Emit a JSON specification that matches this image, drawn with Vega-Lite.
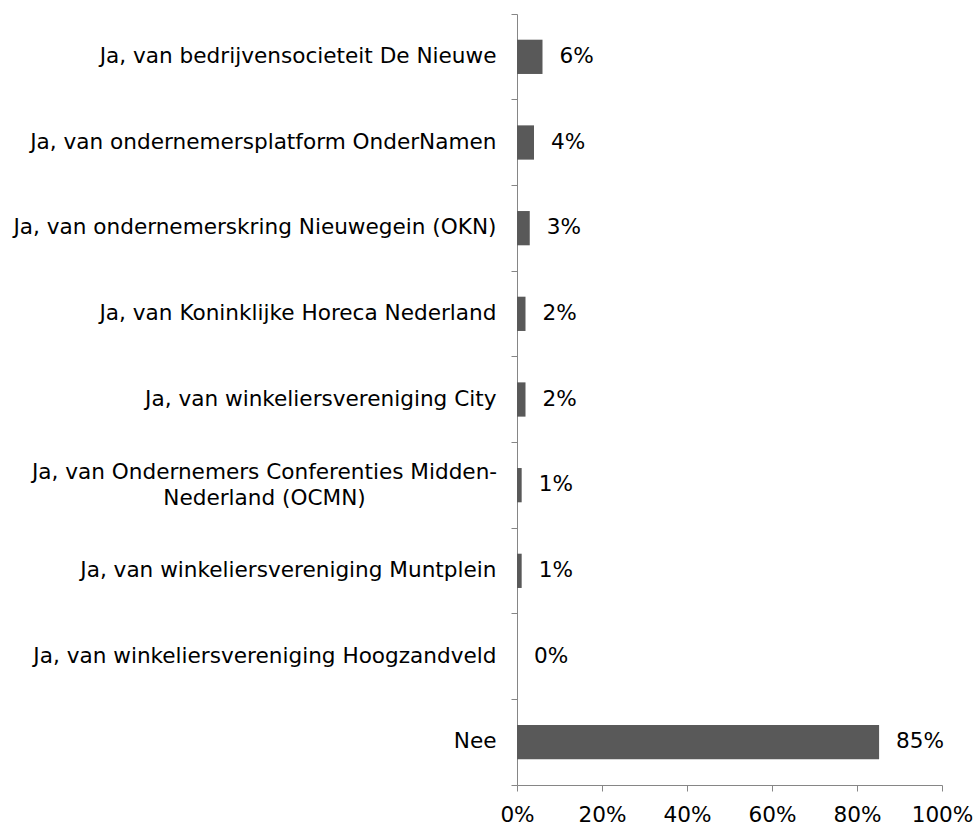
{
  "$schema": "https://vega.github.io/schema/vega-lite/v6.json",
  "autosize": "none",
  "padding": {"left": 517, "top": 14, "right": 35, "bottom": 40},
  "width": 425,
  "height": 771,
  "background": "white",
  "config": {
    "view": {"stroke": null},
    "font": "DejaVu Sans"
  },
  "data": {
    "values": [
      {"categorie": "Ja, van bedrijvensocieteit De Nieuwe", "aandeel": 0.06},
      {"categorie": "Ja, van ondernemersplatform OnderNamen", "aandeel": 0.04},
      {"categorie": "Ja, van ondernemerskring Nieuwegein (OKN)", "aandeel": 0.03},
      {"categorie": "Ja, van Koninklijke Horeca Nederland", "aandeel": 0.02},
      {"categorie": "Ja, van winkeliersvereniging City", "aandeel": 0.02},
      {"categorie": "Ja, van Ondernemers Conferenties Midden-Nederland (OCMN)", "aandeel": 0.011},
      {"categorie": "Ja, van winkeliersvereniging Muntplein", "aandeel": 0.011},
      {"categorie": "Ja, van winkeliersvereniging Hoogzandveld", "aandeel": 0.0},
      {"categorie": "Nee", "aandeel": 0.852}
    ]
  },
  "encoding": {
    "y": {
      "field": "categorie",
      "type": "nominal",
      "sort": null,
      "scale": {"paddingInner": 0, "paddingOuter": 0},
      "axis": {
        "title": null,
        "bandPosition": 1,
        "tickExtra": true,
        "tickSize": 6,
        "tickColor": "#868686",
        "domainColor": "#868686",
        "labelColor": "#000000",
        "labelFont": "DejaVu Sans",
        "labelFontSize": 21.6,
        "labelLimit": 0,
        "labelLineHeight": 26,
        "labelExpr": "datum.value == 'Ja, van Ondernemers Conferenties Midden-Nederland (OCMN)' ? ['Ja, van Ondernemers Conferenties Midden-', 'Nederland (OCMN)'] : datum.label",
        "labelAlign": {"condition": {"test": "datum.value == 'Ja, van Ondernemers Conferenties Midden-Nederland (OCMN)'", "value": "center"}, "value": "right"},
        "labelPadding": {"condition": {"test": "datum.value == 'Ja, van Ondernemers Conferenties Midden-Nederland (OCMN)'", "value": 247}, "value": 15},
        "labelOffset": {"condition": {"test": "datum.value == 'Ja, van Ondernemers Conferenties Midden-Nederland (OCMN)'", "value": -12}, "value": 0}
      }
    }
  },
  "layer": [
    {
      "mark": {"type": "bar", "color": "#595959", "height": {"band": 0.4}},
      "encoding": {
        "x": {
          "field": "aandeel",
          "type": "quantitative",
          "scale": {"domain": [0, 1], "nice": false},
          "axis": {
            "title": null,
            "format": "0%",
            "values": [0, 0.2, 0.4, 0.6, 0.8, 1],
            "grid": false,
            "tickSize": 6,
            "tickColor": "#868686",
            "domainColor": "#868686",
            "labelColor": "#000000",
            "labelFont": "DejaVu Sans",
            "labelFontSize": 21.6,
            "labelPadding": 13,
            "labelFlush": false
          }
        }
      }
    },
    {
      "mark": {"type": "text", "align": "left", "dx": 17, "fontSize": 21.6, "font": "DejaVu Sans", "color": "#000000"},
      "encoding": {
        "x": {"field": "aandeel", "type": "quantitative"},
        "text": {"field": "aandeel", "type": "quantitative", "format": ".0%"}
      }
    }
  ]
}
